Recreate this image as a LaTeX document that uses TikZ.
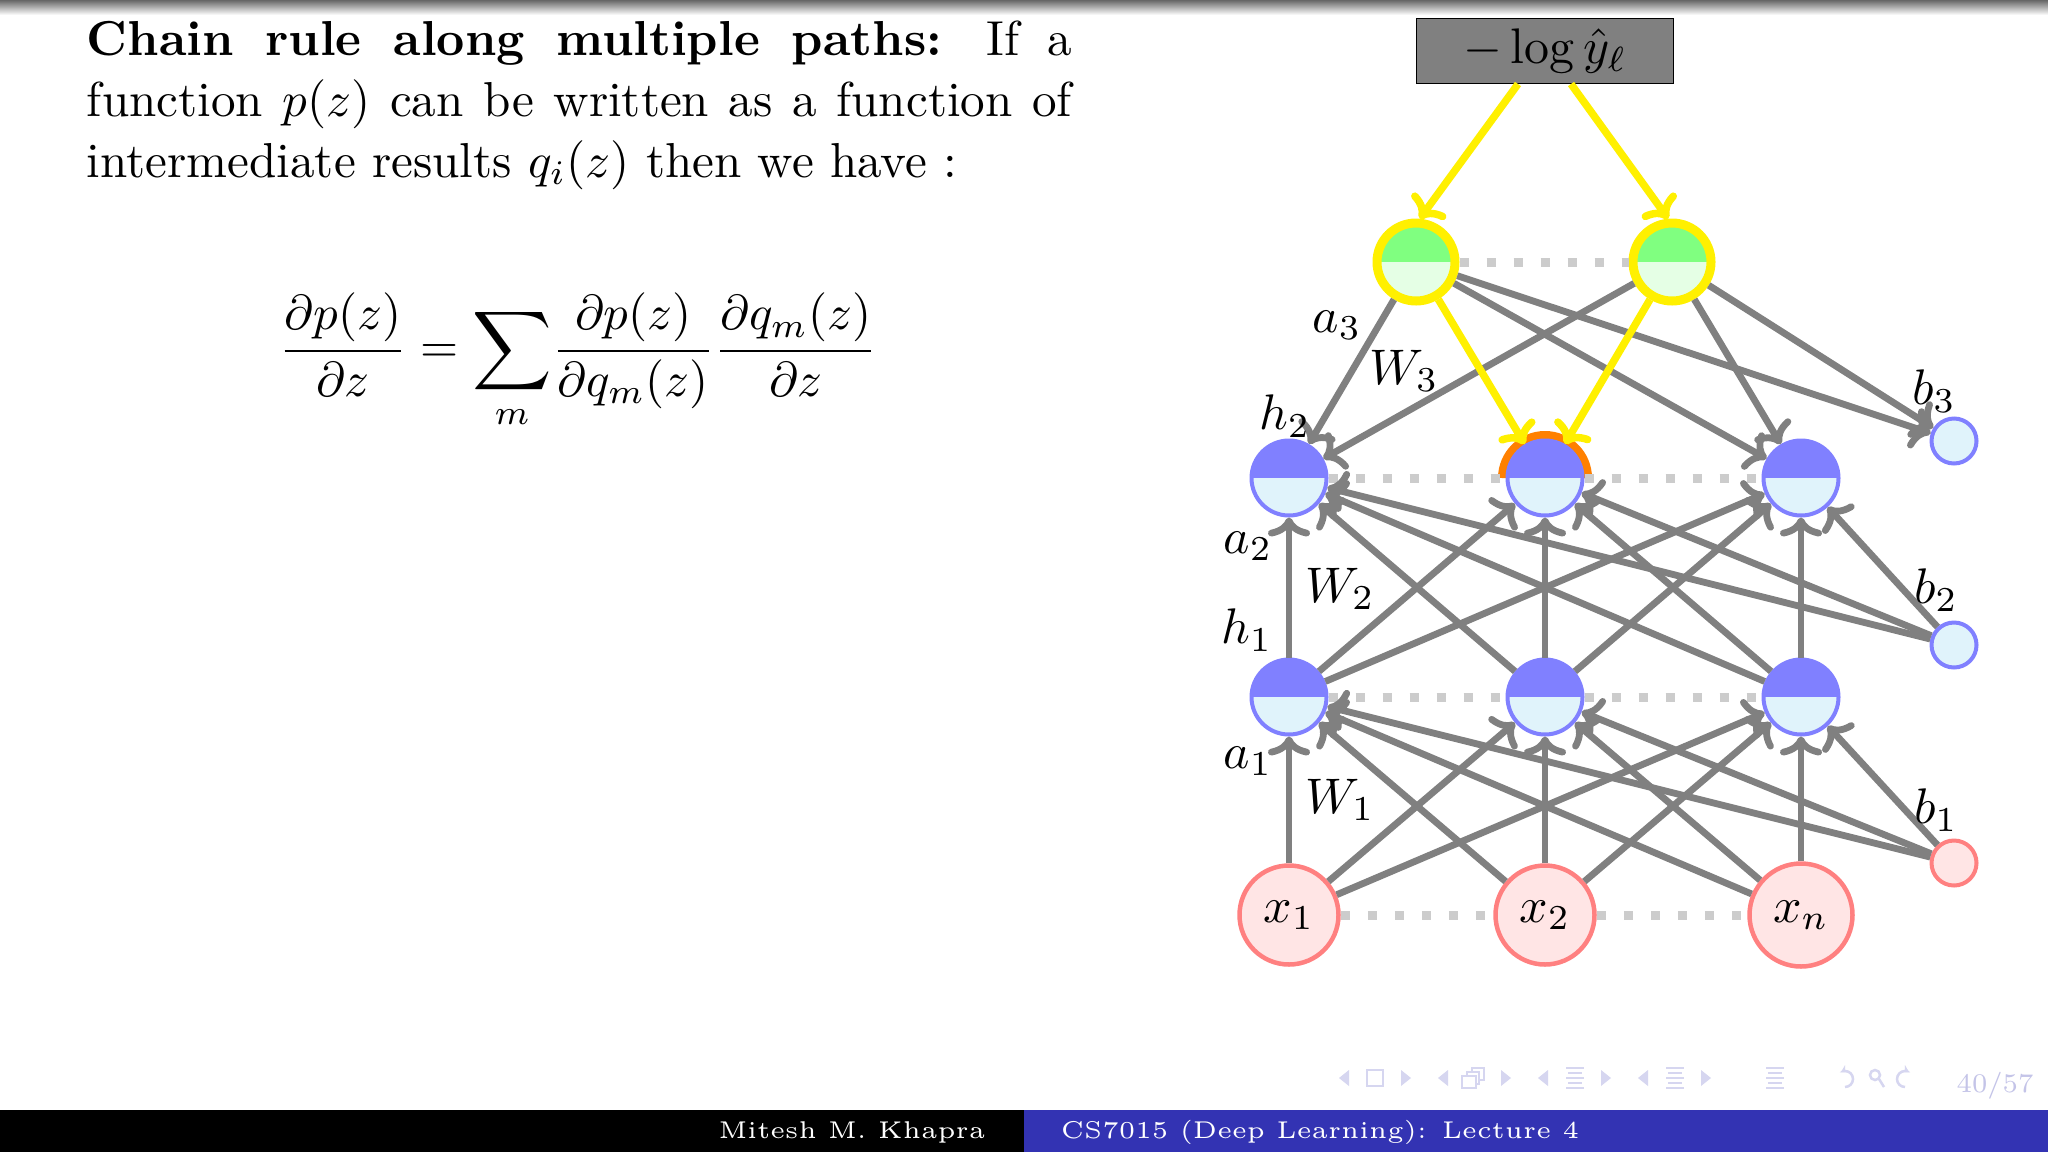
\documentclass[tikz,border=0pt]{standalone}
\usepackage{amsmath}
\usepackage{graphicx}
\usetikzlibrary{arrows.meta}
\definecolor{edgegray}{HTML}{808080}
\definecolor{dotgray}{HTML}{CCCCCC}
\definecolor{hblue}{HTML}{8080FF}
\definecolor{hlight}{HTML}{E0F3FB}
\definecolor{gtop}{HTML}{80FF80}
\definecolor{glight}{HTML}{E5FFE5}
\definecolor{rborder}{HTML}{FF8080}
\definecolor{rlight}{HTML}{FFE5E5}
\definecolor{ylw}{HTML}{FFF000}
\definecolor{org}{HTML}{FF8000}
\definecolor{navblue}{HTML}{3333B3}
\definecolor{navsym}{HTML}{D6D6F0}
\definecolor{navnum}{HTML}{C4C4E8}
\tikzset{
  hnode/.style={circle,inner sep=0pt,draw=hblue,fill=hlight,line width=4pt,minimum size=75pt,
    path picture={\fill[hblue] (path picture bounding box.west) rectangle (path picture bounding box.north east);}},
  topnode/.style={circle,inner sep=0pt,draw=ylw,fill=glight,line width=9pt,minimum size=78pt,
    path picture={\fill[gtop] (path picture bounding box.west) rectangle (path picture bounding box.north east);}},
  inpnode/.style={circle,inner sep=0pt,draw=rborder,fill=rlight,line width=4.5pt,minimum size=99pt},
  biasnode/.style={circle,inner sep=0pt,draw=hblue,fill=hlight,line width=4pt,minimum size=45pt},
  biasred/.style={biasnode,draw=rborder,fill=rlight},
  lossbox/.style={rectangle,inner sep=0pt,draw=black,fill=edgegray,line width=1.6pt,minimum width=257pt,minimum height=65pt},
  conn/.style={draw=edgegray,line width=6.8pt,-{Computer Modern Rightarrow[length=19pt,width=42pt]}},
  yconn/.style={draw=ylw,line width=7.5pt,-{Computer Modern Rightarrow[length=19pt,width=42pt]}},
  dotline/.style={draw=dotgray,line width=9pt,dash pattern=on 9pt off 18pt},
  lab/.style={inner sep=0pt,scale=5},
  para/.style={inner sep=0pt,scale=4.91,anchor=base west,text width=200.6pt,align=justify},
  navt/.style={inner sep=0pt,text=white,scale=4.85},
  navsymb/.style={fill=navsym,draw=none},
  navline/.style={draw=navsym,line width=2.5pt}
}
\newcommand{\mth}[1]{\scalebox{5}{$#1$}}
\newcommand{\navtri}[2]{\fill[navsymb] (#1,#2) ++(-5pt,0pt) -- ++(10pt,8pt) -- ++(0pt,-16pt) -- cycle;}
\newcommand{\navtrir}[2]{\fill[navsymb] (#1,#2) ++(5pt,0pt) -- ++(-10pt,8pt) -- ++(0pt,-16pt) -- cycle;}
\newcommand{\navlines}[2]{\foreach \d/\w in {-10/9,-5/7,0/9,5/7,10/9}{\draw[navline] (#1-\w,#2+\d) -- (#1+\w,#2+\d);}}
\begin{document}
\begin{tikzpicture}[x=1pt,y=-1pt]
\useasboundingbox (0,0) rectangle (2048,1152);
\fill[white] (0,0) rectangle (2048,1152);
\shade[top color=black!60,bottom color=white,draw=none] (0,0) rectangle (2048,15);

% text
\node[para] (ptext) at (86,55) {\baselineskip=12.45pt\textbf{Chain rule along multiple paths:} If a\linebreak function $p(z)$ can be written as a function of\linebreak intermediate results $q_i(z)$ then we have :\par};
\node[inner sep=0pt,scale=4.9] (eqn) at (578,361) {$\displaystyle \frac{\partial p(z)}{\partial z} = \mathop{\vcenter{\hbox{\scalebox{1.125}{$\displaystyle\sum$}}}}\limits_{m}\! \frac{\partial p(z)}{\partial q_m(z)}\frac{\partial q_m(z)}{\partial z}$};

% nodes
\node[lossbox] (loss) at (1545,51) {\mth{-\log\hat{y}_\ell}};
\node[topnode] (t1) at (1416,262) {};
\node[topnode] (t2) at (1672,262) {};
\node[hnode] (ha1) at (1289,478) {};
\draw[org,line width=8pt] (1545+43,478) arc[start angle=0,end angle=180,radius=43pt];
\node[hnode] (ha2) at (1545,478) {};
\node[hnode] (ha3) at (1801,478) {};
\node[hnode] (hb1) at (1289,697) {};
\node[hnode] (hb2) at (1545,697) {};
\node[hnode] (hb3) at (1801,697) {};
\node[inpnode] (x1) at (1289,915) {\mth{x_1}};
\node[inpnode] (x2) at (1545,915) {\mth{x_2}};
\node[inpnode,minimum size=103pt] (x3) at (1801,915) {\mth{x_n}};
\node[biasnode] (b3) at (1954,441) {};
\node[biasnode] (b2) at (1954,645) {};
\node[biasred] (b1) at (1954,863) {};

% dotted rows
\draw[dotline] (t1) -- (t2);
\draw[dotline] (ha1) -- (ha2);
\draw[dotline] (ha2) -- (ha3);
\draw[dotline] (hb1) -- (hb2);
\draw[dotline] (hb2) -- (hb3);
\draw[dotline] (x1) -- (x2);
\draw[dotline] (x2) -- (x3);

% grey connectors
\foreach \s in {x1,x2,x3,b1}{
  \foreach \e in {hb1,hb2,hb3}{\draw[conn] (\s) -- (\e);}
}
\foreach \s in {hb1,hb2,hb3,b2}{
  \foreach \e in {ha1,ha2,ha3}{\draw[conn] (\s) -- (\e);}
}
\foreach \s in {t1,t2}{
  \foreach \e in {ha1,ha3,b3}{\draw[conn] (\s) -- (\e);}
}

% yellow connectors
\coordinate (ys1) at (1518,84);
\coordinate (ys2) at (1571,84);
\draw[yconn] (ys1) -- (t1.85);
\draw[yconn] (ys2) -- (t2.95);
\draw[yconn] (t1) -- (ha2);
\draw[yconn] (t2) -- (ha2);

% labels
\node[lab] (la3) at (1337,325) {$a_3$};
\node[lab] (lw3) at (1404,371) {$W_3$};
\node[lab] (lh2) at (1285,416) {$h_2$};
\node[lab] (lb3) at (1934,391) {$b_3$};
\node[lab] (la2) at (1248,546) {$a_2$};
\node[lab] (lw2) at (1340,589) {$W_2$};
\node[lab] (lh1) at (1247,630) {$h_1$};
\node[lab] (lb2) at (1936,590) {$b_2$};
\node[lab] (la1) at (1248,761) {$a_1$};
\node[lab] (lw1) at (1340,800) {$W_1$};
\node[lab] (lb1) at (1936,810) {$b_1$};

% footer
\fill[black] (0,1110) rectangle (1024,1152);
\fill[navblue] (1024,1110) rectangle (2048,1152);
\node[navt] (auth) at (852,1132) {\fontsize{5}{6}\selectfont Mitesh M. Khapra};
\node[navt] (ttl) at (1320,1132) {\fontsize{5}{6}\selectfont CS7015 (Deep Learning): Lecture 4};
\node[inner sep=0pt,text=navnum,scale=3.85] (pg) at (1995,1086) {\fontsize{7}{8}\selectfont 40/57};

% navigation symbols
\navtri{1344}{1078}
\draw[navsym,line width=2.5pt] (1367,1070) rectangle (1383,1086);
\navtrir{1406}{1078}
\navtri{1443}{1078}
\draw[navsym,line width=2.5pt,fill=white] (1472,1068) rectangle (1484,1080);
\draw[navsym,line width=2.5pt,fill=white] (1467,1072) rectangle (1479,1084);
\draw[navsym,line width=2.5pt,fill=white] (1462,1076) rectangle (1476,1088);
\navtrir{1506}{1078}
\navtri{1543}{1078}
\navlines{1575}{1078}
\navtrir{1606}{1078}
\navtri{1643}{1078}
\navlines{1675}{1078}
\navtrir{1706}{1078}
\navlines{1775}{1078}
\draw[navsym,line width=2.5pt,-{Stealth[length=7pt,width=8pt]}] (1845,1087) arc[start angle=-90,end angle=120,radius=8pt];
\draw[navsym,line width=2.5pt] (1875,1075) circle[radius=5pt] (1879,1079) -- (1884,1087);
\draw[navsym,line width=2.5pt,-{Stealth[length=7pt,width=8pt]}] (1905,1087) arc[start angle=270,end angle=60,radius=8pt];
\end{tikzpicture}
\end{document}
